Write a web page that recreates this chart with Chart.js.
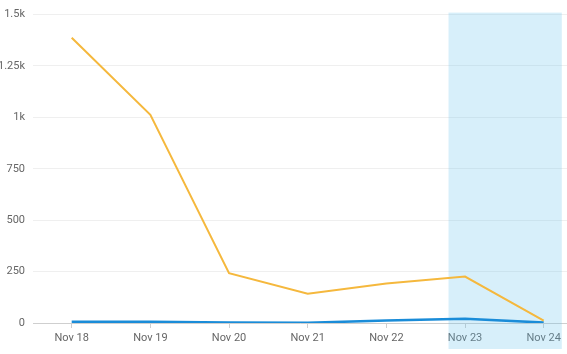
<!DOCTYPE html>
<html><head><meta charset="utf-8">
<script src="https://cdn.jsdelivr.net/npm/chart.js@4"></script>
<style>html,body{margin:0;padding:0;background:#fff}#wrap{width:567px;height:354px}</style>
</head><body><div id="wrap"><canvas id="c" width="567" height="354"></canvas></div>
<script>
const categories = ["Nov 18","Nov 19","Nov 20","Nov 21","Nov 22","Nov 23","Nov 24"];
const seriesOrange = [1387, 1013, 242, 142, 192, 226, 11];
const seriesBlue = [6, 6, 3, 1, 12, 21, 2];
const yTicks = [0, 250, 500, 750, 1000, 1250, 1500];
const yTickLabels = ["0","250","500","750","1k","1.25k","1.5k"];
const shadeRange = [4.79, 6.23];

const toPts = arr => arr.map((v, i) => ({x: i, y: v}));

const shadePlugin = {
  id: 'shade',
  beforeDatasetsDraw(chart) {
    const {ctx, chartArea, scales} = chart;
    const x0 = scales.x.getPixelForValue(shadeRange[0]);
    const x1 = scales.x.getPixelForValue(shadeRange[1]);
    ctx.save();
    ctx.fillStyle = 'rgba(100,195,235,0.26)';
    ctx.fillRect(x0, chartArea.top - 2, x1 - x0, chart.height - 5 - (chartArea.top - 2));
    ctx.restore();
  }
};

new Chart(document.getElementById('c'), {
  type: 'line',
  data: {
    datasets: [
      {data: toPts(seriesOrange), borderColor: '#f5b83d', borderWidth: 2, pointRadius: 0, tension: 0, fill: false},
      {data: toPts(seriesBlue), borderColor: '#1a8cd8', borderWidth: 2.5, pointRadius: 0, tension: 0, fill: false}
    ]
  },
  options: {
    responsive: false,
    animation: false,
    layout: {padding: {top: 9, right: 0, left: 0, bottom: 0}},
    plugins: {legend: {display: false}, tooltip: {enabled: false}},
    scales: {
      x: {
        type: 'linear',
        min: -0.492,
        max: 6.296,
        afterBuildTicks: s => { s.ticks = categories.map((_, i) => ({value: i})); },
        afterFit: s => { s.height = 31; },
        ticks: {
          callback: v => categories[v],
          color: '#666',
          font: {family: 'Roboto', size: 11},
          padding: 4,
          maxRotation: 0,
          autoSkip: false
        },
        grid: {display: true, drawOnChartArea: false, tickLength: 5, color: '#cfcfcf'},
        border: {display: true, color: '#cfcfcf'}
      },
      y: {
        min: 0,
        max: 1500,
        afterBuildTicks: s => { s.ticks = yTicks.map(v => ({value: v})); },
        afterFit: s => { s.width = 33; },
        ticks: {
          callback: v => yTickLabels[yTicks.indexOf(v)],
          color: '#666',
          font: {family: 'Roboto', size: 11},
          padding: 8
        },
        grid: {color: '#efefef', drawTicks: false},
        border: {display: false}
      }
    }
  },
  plugins: [shadePlugin]
});
</script>
</body></html>
